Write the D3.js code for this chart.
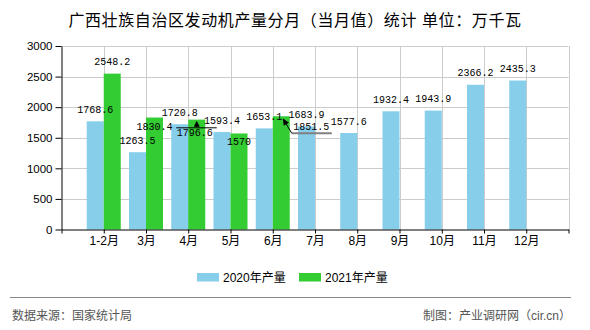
<!DOCTYPE html>
<html>
<head>
<meta charset="utf-8">
<script src="https://cdn.jsdelivr.net/npm/d3@7/dist/d3.min.js"></script>
<style>
  html, body { margin: 0; padding: 0; background: #fff; }
  svg { display: block; }
  .cjk { font-family: "Liberation Sans", "Noto Sans CJK SC", sans-serif; }
</style>
</head>
<body>
<svg id="chart" width="590" height="330"></svg>
<script>
// Monthly engine output, Guangxi (10k kW)
const months = ["1-2月", "3月", "4月", "5月", "6月", "7月", "8月", "9月", "10月", "11月", "12月"];
const output2020 = [1768.6, 1263.5, 1720.8, 1593.4, 1653.1, 1683.9, 1577.6, 1932.4, 1943.9, 2366.2, 2435.3];
const output2021 = [2548.2, 1830.4, 1796.6, 1570, 1851.5];
const yTicks = [0, 500, 1000, 1500, 2000, 2500, 3000];
const seriesNames = ["2020年产量", "2021年产量"];

// label placement: "below" tucks the value under the bar top, "callout" uses a leader line
const labelModes2021 = ["above", "below", "calloutFlat", "below", "calloutElbow"];

const colors = ["#87CEEB", "#33CC33"];
const svg = d3.select("#chart");
const W = 590, H = 330;
const plot = { left: 61.5, right: 568.5, top: 46, bottom: 229.5 };
const barW = 17;

const x = d3.scaleLinear().domain([0, months.length + 1]).range([plot.left, plot.right]);
const y = d3.scaleLinear().domain([0, 3000]).range([plot.bottom, plot.top]);

// title
svg.append("text").attr("class", "cjk")
  .attr("x", W / 2).attr("y", 25.5)
  .attr("text-anchor", "middle")
  .style("font-size", "16px").style("letter-spacing", "0.6px").attr("fill", "#000")
  .text("广西壮族自治区发动机产量分月（当月值）统计 单位：万千瓦");

// grid
const grid = svg.append("g").attr("stroke", "#cccccc").attr("stroke-width", 1);
grid.selectAll("line.h").data(yTicks.slice(1)).join("line")
  .attr("x1", plot.left).attr("x2", plot.right)
  .attr("y1", d => Math.round(y(d)) + 0.5).attr("y2", d => Math.round(y(d)) + 0.5);
grid.selectAll("line.v").data(d3.range(1, months.length + 2)).join("line")
  .attr("x1", d => Math.round(x(d)) + 0.5).attr("x2", d => Math.round(x(d)) + 0.5)
  .attr("y1", plot.top).attr("y2", plot.bottom);

// bars
const bars = svg.append("g");
bars.selectAll("rect.s2020").data(output2020).join("rect")
  .attr("x", (d, i) => x(i + 1) - barW)
  .attr("width", barW)
  .attr("y", d => y(d))
  .attr("height", d => y(0) - y(d))
  .attr("fill", colors[0]);
bars.selectAll("rect.s2021").data(output2021).join("rect")
  .attr("x", (d, i) => x(i + 1))
  .attr("width", barW)
  .attr("y", d => y(d))
  .attr("height", d => y(0) - y(d))
  .attr("fill", colors[1]);

// axes
const yAxis = svg.append("g")
  .attr("transform", `translate(${plot.left},0)`)
  .call(d3.axisLeft(y).tickValues(yTicks).tickFormat(d3.format("d"))
    .tickSize(6).tickPadding(3).tickSizeOuter(0));
yAxis.selectAll("text").style("font-family", "Liberation Sans, Arial, sans-serif")
  .style("font-size", "11.5px").attr("fill", "#000");

const xAxis = svg.append("g")
  .attr("transform", `translate(0,${plot.bottom})`)
  .call(d3.axisBottom(x).tickValues(d3.range(0, months.length + 2)).tickSize(4).tickPadding(3)
    .tickSizeOuter(0)
    .tickFormat(d => (d >= 1 && d <= months.length) ? months[d - 1] : ""));
xAxis.selectAll("text").attr("class", "cjk").style("font-size", "12px").attr("fill", "#000");
svg.selectAll(".domain, .tick line").attr("stroke", "#000");

// value labels
const labels = svg.append("g")
  .style("font-family", "Liberation Mono, DejaVu Sans Mono, monospace")
  .style("font-size", "10px").attr("fill", "#000").attr("text-anchor", "middle");

output2020.forEach((v, i) => {
  labels.append("text")
    .attr("x", x(i + 1) - barW / 2).attr("y", y(v) - 12).attr("dy", "0.35em")
    .text(v);
});

output2021.forEach((v, i) => {
  const cx = x(i + 1) + barW / 2;
  const top = y(v);
  const mode = labelModes2021[i];
  if (mode === "above") {
    labels.append("text").attr("x", cx).attr("y", top - 12).attr("dy", "0.35em").text(v);
  } else if (mode === "below") {
    labels.append("text").attr("x", cx).attr("y", top + 8.5).attr("dy", "0.35em").text(v);
  } else if (mode === "calloutFlat") {
    const tipY = top + 1.2;
    const lineY = tipY + 7;
    labels.append("text").attr("x", cx - 2).attr("y", lineY + 4.5).attr("dy", "0.35em").text(v);
    svg.append("line").attr("x1", cx - 20.5).attr("x2", cx + 20).attr("y1", lineY).attr("y2", lineY)
      .attr("stroke", "#000").attr("stroke-width", 1);
    svg.append("line").attr("x1", cx).attr("x2", cx).attr("y1", lineY).attr("y2", tipY + 3)
      .attr("stroke", "#000").attr("stroke-width", 1);
    svg.append("path")
      .attr("d", `M${cx},${tipY} L${cx - 3},${tipY + 6} L${cx + 3},${tipY + 6} Z`)
      .attr("fill", "#000");
  } else if (mode === "calloutElbow") {
    const tipX = cx + 1.5, tipY = top + 2;
    const elbowX = tipX + 9, elbowY = tipY + 15;
    svg.append("line").attr("x1", elbowX).attr("x2", elbowX + 40).attr("y1", elbowY).attr("y2", elbowY)
      .attr("stroke", "#808080").attr("stroke-width", 2);
    svg.append("line").attr("x1", tipX + 2).attr("y1", tipY + 3.3).attr("x2", elbowX).attr("y2", elbowY)
      .attr("stroke", "#000").attr("stroke-width", 1);
    const ang = Math.atan2(elbowY - tipY, elbowX - tipX);
    const hl = 7, hw = 3;
    const bx = tipX + hl * Math.cos(ang), by = tipY + hl * Math.sin(ang);
    const px = -Math.sin(ang) * hw, py = Math.cos(ang) * hw;
    svg.append("path")
      .attr("d", `M${tipX},${tipY} L${bx + px},${by + py} L${bx - px},${by - py} Z`)
      .attr("fill", "#000");
    labels.append("text").attr("x", tipX + 28.5).attr("y", elbowY - 6.5).attr("dy", "0.35em").text(v);
  }
});

// legend
const legend = svg.append("g").attr("class", "cjk");
const legendItems = [{ x: 197, name: seriesNames[0], color: colors[0] }, { x: 299, name: seriesNames[1], color: colors[1] }];
legendItems.forEach(it => {
  legend.append("rect").attr("x", it.x).attr("y", 273).attr("width", 22).attr("height", 8.5).attr("fill", it.color);
  legend.append("text").attr("x", it.x + 26).attr("y", 277.5).attr("dy", "0.36em")
    .style("font-size", "12px").attr("fill", "#000").text(it.name);
});

// footer
svg.append("line").attr("x1", 10).attr("x2", 571).attr("y1", 297.5).attr("y2", 297.5)
  .attr("stroke", "#888").attr("stroke-width", 1.2);
svg.append("text").attr("class", "cjk").attr("x", 12).attr("y", 316).attr("dy", "0.36em")
  .style("font-size", "12px").attr("fill", "#555").text("数据来源：国家统计局");
svg.append("text").attr("class", "cjk").attr("x", 571).attr("y", 316).attr("dy", "0.36em")
  .attr("text-anchor", "end")
  .style("font-size", "12px").attr("fill", "#555").text("制图：产业调研网（cir.cn）");
</script>
</body>
</html>
